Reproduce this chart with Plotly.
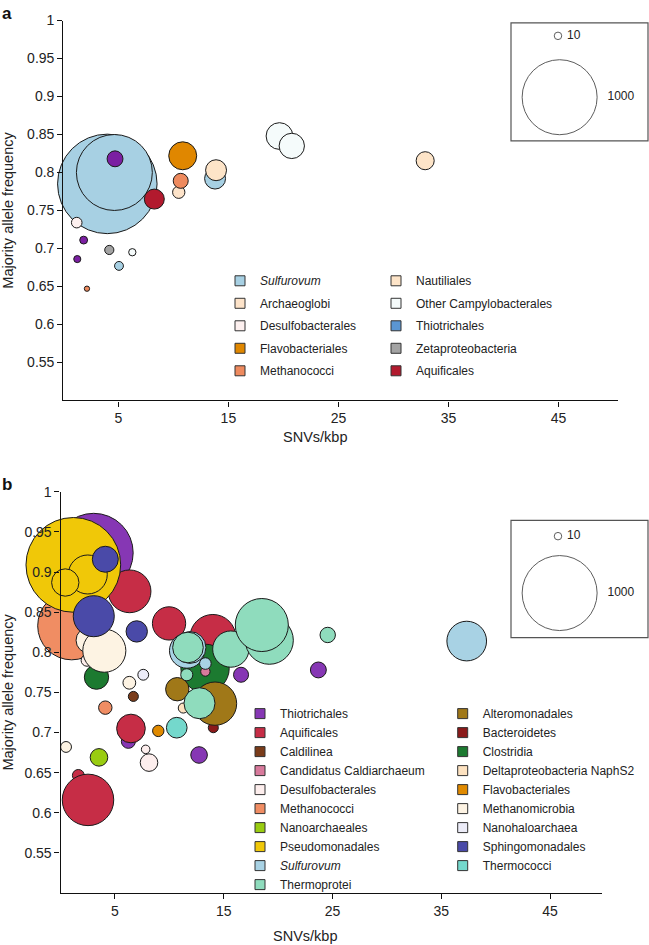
import plotly.graph_objects as go

# ---------- panel a ----------
taxa_a = ['Sulfurovum', 'Sulfurovum', 'Thiotrichales', 'Aquificales', 'Flavobacteriales',
          'Archaeoglobi', 'Methanococci', 'Sulfurovum', 'Nautiliales',
          'Other Campylobacterales', 'Other Campylobacterales', 'Nautiliales',
          'Desulfobacterales', 'Thiotrichales', 'Thiotrichales', 'Zetaproteobacteria',
          'Other Campylobacterales', 'Sulfurovum', 'Methanococci']
snv_a = [4.0, 4.64, 4.7, 8.27, 10.85, 10.49, 10.67, 13.79, 13.88, 19.64, 20.76, 32.88,
         1.22, 1.85, 1.27, 4.18, 6.27, 5.06, 2.15]
maf_a = [0.785, 0.800, 0.818, 0.765, 0.822, 0.774, 0.789, 0.792, 0.803, 0.848, 0.835, 0.8155,
         0.734, 0.711, 0.686, 0.698, 0.695, 0.677, 0.647]
size_a = [1760, 1025, 45, 71, 139, 27, 40, 78, 78, 127, 114, 58,
          20, 11, 9, 15, 9.5, 14, 5]

legend_a = [['Sulfurovum', 'Archaeoglobi', 'Desulfobacterales', 'Flavobacteriales', 'Methanococci'],
            ['Nautiliales', 'Other Campylobacterales', 'Thiotrichales', 'Zetaproteobacteria', 'Aquificales']]

# ---------- panel b ----------
taxa_b = ['Thiotrichales', 'Aquificales', 'Methanococci', 'Pseudomonadales', 'Pseudomonadales',
          'Pseudomonadales', 'Sphingomonadales', 'Desulfobacterales', 'Clostridia',
          'Methanomicrobia', 'Methanomicrobia', 'Sphingomonadales', 'Sphingomonadales',
          'Aquificales', 'Methanomicrobia', 'Nanohaloarchaea', 'Caldilinea', 'Methanococci',
          'Thiotrichales', 'Aquificales', 'Flavobacteriales', 'Thermococci',
          'Desulfobacterales', 'Desulfobacterales', 'Nanoarchaeales', 'Methanomicrobia',
          'Aquificales', 'Aquificales', 'Thiotrichales', 'Bacteroidetes',
          'Deltaproteobacteria NaphS2', 'Aquificales', 'Clostridia', 'Alteromonadales',
          'Alteromonadales', 'Sulfurovum', 'Sulfurovum', 'Thermoprotei', 'Thermoprotei',
          'Thermoprotei', 'Thermoprotei', 'Candidatus Caldiarchaeum', 'Sulfurovum',
          'Thermoprotei', 'Thermoprotei', 'Thiotrichales', 'Thiotrichales', 'Thermoprotei',
          'Sulfurovum']
snv_b = [3.04, 6.34, 1.02, 1.17, 2.5, 0.43, 4.11, 2.43, 3.3, 2.6, 4.02, 3.05, 7.0,
         9.97, 6.32, 7.6, 6.69, 4.11, 6.23, 6.47, 8.98, 10.68, 7.82, 8.13, 3.53, 0.5,
         1.63, 2.52, 12.73, 14.04, 11.28, 14.0, 13.28, 14.2, 10.73, 11.62, 11.9, 11.71,
         15.65, 19.19, 18.5, 13.31, 13.31, 11.6, 12.77, 16.59, 23.7, 24.56, 37.34]
maf_b = [0.924, 0.876, 0.833, 0.909, 0.897, 0.887, 0.916, 0.79, 0.769, 0.815, 0.802,
         0.845, 0.826, 0.836, 0.762, 0.772, 0.745, 0.731, 0.689, 0.705, 0.702, 0.706,
         0.679, 0.6625, 0.669, 0.682, 0.6465, 0.616, 0.672, 0.706, 0.7305, 0.8185, 0.78,
         0.736, 0.754, 0.802, 0.806, 0.806, 0.804, 0.815, 0.834, 0.776, 0.786, 0.772,
         0.7365, 0.772, 0.778, 0.8216, 0.814]
size_b = [1110, 325, 822, 1594, 270, 133, 120, 25, 105, 117, 330, 299, 81,
          197, 29, 21, 18, 32, 35, 146, 23, 76, 13, 55, 55, 21,
          25, 471, 49, 18, 18, 376, 416, 333, 97, 218, 180, 167,
          234, 410, 500, 15.5, 24, 26, 171, 40, 45, 42, 280]

legend_b = [['Thiotrichales', 'Aquificales', 'Caldilinea', 'Candidatus Caldiarchaeum',
             'Desulfobacterales', 'Methanococci', 'Nanoarchaeales', 'Pseudomonadales',
             'Sulfurovum', 'Thermoprotei'],
            ['Alteromonadales', 'Bacteroidetes', 'Clostridia', 'Deltaproteobacteria NaphS2',
             'Flavobacteriales', 'Methanomicrobia', 'Nanohaloarchaea', 'Sphingomonadales',
             'Thermococci']]

key_sizes = [10, 1000]

# colours
colour_a = {
    'Sulfurovum': '#a7d0e3', 'Archaeoglobi': '#fde3c9', 'Desulfobacterales': '#fdf0ef',
    'Flavobacteriales': '#e08700', 'Methanococci': '#ee8a5e', 'Nautiliales': '#fde4c8',
    'Other Campylobacterales': '#f5fbfb', 'Thiotrichales': '#5b96d2',
    'Zetaproteobacteria': '#a3a3a3', 'Aquificales': '#b21a2e',
}
point_colour_a = dict(colour_a, Thiotrichales='#7b1fa2')

colour_b = {
    'Thiotrichales': '#8637b4', 'Aquificales': '#c62d46', 'Caldilinea': '#7a3c1a',
    'Candidatus Caldiarchaeum': '#d87a9c', 'Desulfobacterales': '#fdeeed',
    'Methanococci': '#f08d63', 'Nanoarchaeales': '#99cc11', 'Pseudomonadales': '#f0c808',
    'Sulfurovum': '#a8d2e4', 'Thermoprotei': '#8fdcbd', 'Alteromonadales': '#a07818',
    'Bacteroidetes': '#8b1a1a', 'Clostridia': '#1c7a30',
    'Deltaproteobacteria NaphS2': '#fde2c0', 'Flavobacteriales': '#e08a00',
    'Methanomicrobia': '#fdf3e3', 'Nanohaloarchaea': '#ececf8',
    'Sphingomonadales': '#4a4aa8', 'Thermococci': '#74d8cc',
}

W, H = 649, 945
FONT = 'Liberation Sans, Arial, Helvetica, sans-serif'
SIZEREF = 2 * 1000 / 75 ** 2  # 1000 -> ~75 px diameter
EDGE = '#1a1a1a'


def px_x(a, b):
    return [a / W, b / W]


def px_y(top, bottom):
    return [1 - bottom / H, 1 - top / H]


def label(t):
    return '<i>Sulfurovum</i>' if t == 'Sulfurovum' else t


fig = go.Figure()

# bubbles
fig.add_trace(go.Scatter(
    x=snv_a, y=maf_a, mode='markers', xaxis='x', yaxis='y', cliponaxis=False,
    showlegend=False, hovertext=taxa_a,
    marker=dict(size=size_a, sizemode='area', sizeref=SIZEREF,
                color=[point_colour_a[t] for t in taxa_a], opacity=1,
                line=dict(color=EDGE, width=1))))
fig.add_trace(go.Scatter(
    x=snv_b, y=maf_b, mode='markers', xaxis='x2', yaxis='y2', cliponaxis=False,
    showlegend=False, hovertext=taxa_b,
    marker=dict(size=size_b, sizemode='area', sizeref=SIZEREF,
                color=[colour_b[t] for t in taxa_b], opacity=1,
                line=dict(color=EDGE, width=1))))

# legend entries (square swatches)
for cols, colours, names, ax in [(legend_a, colour_a, ['legend', 'legend2'], ('x', 'y')),
                                  (legend_b, colour_b, ['legend3', 'legend4'], ('x2', 'y2'))]:
    for col, lg in zip(cols, names):
        for t in col:
            fig.add_trace(go.Scatter(
                x=[None], y=[None], mode='markers', xaxis=ax[0], yaxis=ax[1],
                name=label(t), legend=lg, legendgroup=lg + t,
                marker=dict(symbol='square', size=10, color=colours[t],
                            line=dict(color='#333333', width=1))))

# size keys
key_text = [('\u00a0' if s < 100 else '') + str(s) for s in key_sizes]
for xa, ya, ys in [('x3', 'y3', [0.89, 0.37]), ('x4', 'y4', [0.865, 0.38])]:
    fig.add_trace(go.Scatter(
        x=[0.343, 0.355], y=ys, mode='markers+text', xaxis=xa, yaxis=ya,
        text=key_text, textposition='middle right',
        textfont=dict(size=12, color='#222'), showlegend=False, cliponaxis=False,
        marker=dict(size=key_sizes, sizemode='area', sizeref=SIZEREF, color='white',
                    line=dict(color=EDGE, width=1))))

axis_common = dict(showline=True, linecolor='#111', linewidth=1.3, ticks='outside',
                   ticklen=5, tickwidth=1.3, tickcolor='#111', showgrid=False,
                   zeroline=False, tickfont=dict(size=14, color='#222'),
                   title_font=dict(size=14.5, color='#222'))
yticks = [0.55, 0.6, 0.65, 0.7, 0.75, 0.8, 0.85, 0.9, 0.95, 1]
ytext = ['0.55', '0.6', '0.65', '0.7', '0.75', '0.8', '0.85', '0.9', '0.95', '1']
xticks = [5, 15, 25, 35, 45]

hidden = dict(visible=False, range=[0, 1], fixedrange=True)

fig.update_layout(
    width=W, height=H, margin=dict(l=0, r=0, t=0, b=0),
    paper_bgcolor='white', plot_bgcolor='rgba(0,0,0,0)',
    font=dict(family=FONT, color='#222'),
    xaxis=dict(axis_common, domain=px_x(63.3, 618), range=[0, 50.4], tickvals=xticks,
               anchor='y'),
    yaxis=dict(axis_common, domain=px_y(12.7, 395.7), range=[0.5, 1], tickvals=yticks,
               ticktext=ytext, anchor='x',
               title=dict(text='Majority allele frequency', standoff=10)),
    xaxis2=dict(axis_common, domain=px_x(60.6, 601.7), range=[0, 49.75], tickvals=xticks,
                anchor='y2'),
    yaxis2=dict(axis_common, domain=px_y(488, 892.5), range=[0.5, 1], tickvals=yticks,
                ticktext=ytext, anchor='x2',
                title=dict(text='Majority allele frequency', standoff=10)),
    xaxis3=dict(hidden, domain=px_x(511, 648), anchor='y3'),
    yaxis3=dict(hidden, domain=px_y(15, 134), anchor='x3'),
    xaxis4=dict(hidden, domain=px_x(511, 648), anchor='y4'),
    yaxis4=dict(hidden, domain=px_y(516.7, 635), anchor='x4'),
    shapes=[
        dict(type='rect', xref='paper', yref='paper', x0=511 / W, x1=648 / W,
             y0=1 - 134 / H, y1=1 - 15 / H, line=dict(color='#555', width=1.2)),
        dict(type='rect', xref='paper', yref='paper', x0=511 / W, x1=648 / W,
             y0=1 - 635 / H, y1=1 - 516.7 / H, line=dict(color='#555', width=1.2)),
    ],
    annotations=[
        dict(text='<b>a</b>', x=0, y=1 - 5.5 / H, xref='paper', yref='paper',
             xanchor='left', yanchor='middle', showarrow=False, font=dict(size=17, color='#111')),
        dict(text='<b>b</b>', x=0, y=1 - 481 / H, xref='paper', yref='paper',
             xanchor='left', yanchor='middle', showarrow=False, font=dict(size=17, color='#111')),
        dict(text='SNVs/kbp', x=315 / W, y=1 - 433 / H, xref='paper', yref='paper',
             xanchor='center', yanchor='middle', showarrow=False,
             font=dict(size=14.5, color='#222')),
        dict(text='SNVs/kbp', x=305 / W, y=1 - 936 / H, xref='paper', yref='paper',
             xanchor='center', yanchor='middle', showarrow=False,
             font=dict(size=14.5, color='#222')),
    ],
)

leg_common = dict(xanchor='left', yanchor='top', bgcolor='rgba(0,0,0,0)', borderwidth=0,
                  traceorder='grouped', itemwidth=30, font=dict(size=12, color='#222'))
fig.update_layout(
    legend=dict(leg_common, x=220 / W, y=1 - 260.5 / H, tracegroupgap=3.5),
    legend2=dict(leg_common, x=376 / W, y=1 - 260.5 / H, tracegroupgap=3.5),
    legend3=dict(leg_common, x=240 / W, y=1 - 697 / H, tracegroupgap=0),
    legend4=dict(leg_common, x=442.7 / W, y=1 - 697 / H, tracegroupgap=0),
)

# the page keeps the browser's default 8px body margin otherwise
fig.write_html('out.html', config={'displayModeBar': False},
               post_script="document.body.style.margin = '0';")
